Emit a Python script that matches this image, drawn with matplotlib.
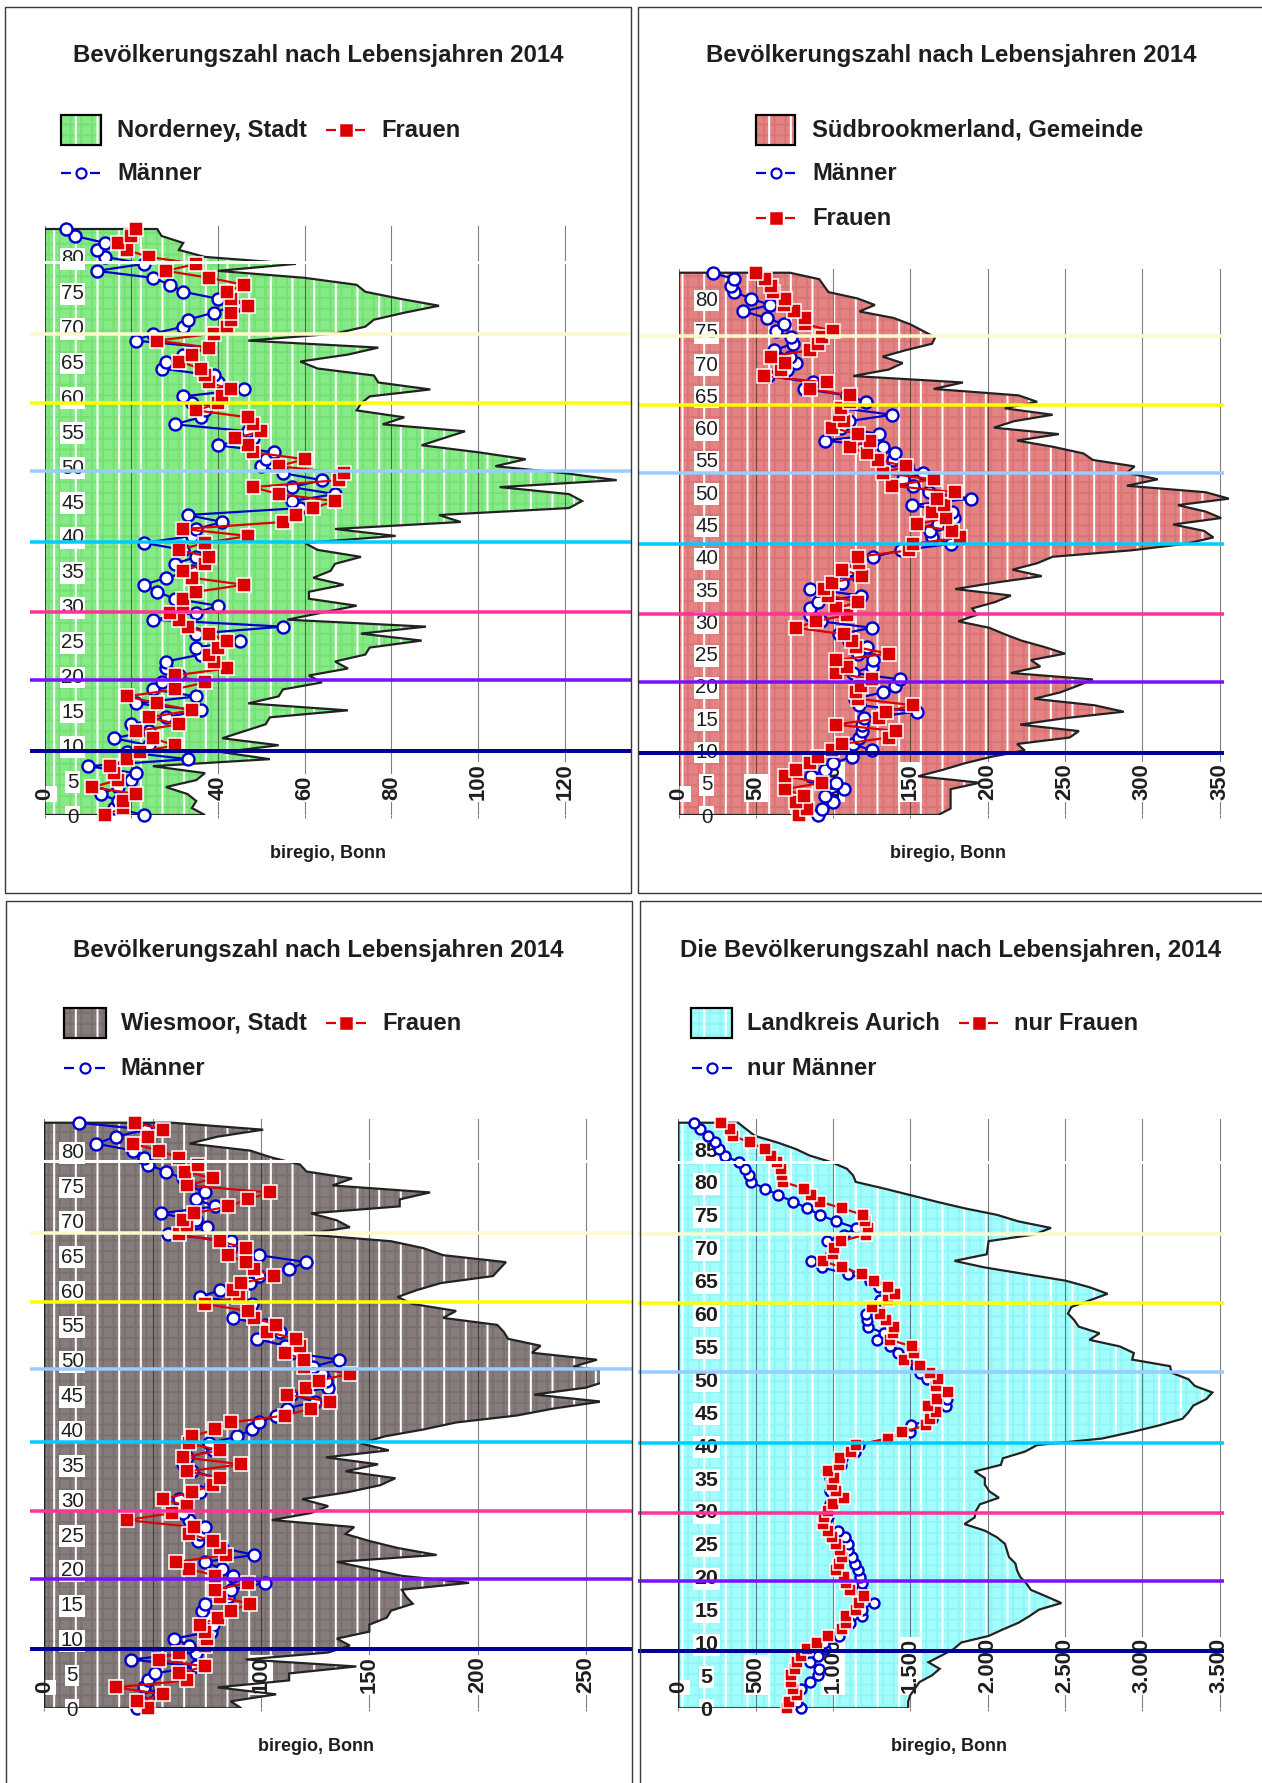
import numpy as np
import matplotlib
matplotlib.use("Agg")
import matplotlib.pyplot as plt
from matplotlib import font_manager
from matplotlib.patches import Polygon, Rectangle
from matplotlib.transforms import blended_transform_factory

W, H, DPI = 1262, 1783, 130
PX = 72.0 / DPI  # points per pixel

# ---------------- data: persons per year of age (list index = age) ----------------
NORDERNEY_TOTAL = [37, 34, 35, 33, 28, 35, 37, 25, 52, 41,
                   54, 41, 46, 51, 52, 70, 47, 54, 55, 64,
                   61, 70, 67, 74, 75, 87, 73, 88, 56, 64,
                   72, 61, 61, 69, 62, 66, 67, 73, 63, 60,
                   81, 67, 96, 91, 121, 124, 121, 105, 132, 120,
                   104, 111, 100, 87, 92, 97, 78, 83, 72, 73,
                   75, 89, 77, 76, 63, 59, 70, 77, 47, 67,
                   74, 76, 83, 91, 82, 74, 72, 60, 40, 58,
                   37, 31, 32, 27, 26]
NORDERNEY_MEN = [23, 16, 17, 13, 17, 20, 21, 10, 33, 19,
                 24, 16, 24, 20, 28, 36, 21, 35, 25, 27,
                 31, 28, 28, 36, 35, 45, 35, 55, 25, 35,
                 40, 30, 26, 23, 28, 34, 30, 35, 32, 23,
                 34, 35, 41, 33, 59, 57, 67, 57, 64, 55,
                 50, 51, 53, 40, 48, 47, 30, 36, 37, 34,
                 32, 46, 40, 39, 27, 28, 32, 38, 21, 25,
                 32, 33, 39, 44, 40, 32, 29, 25, 12, 23,
                 14, 12, 14, 7, 5]
NORDERNEY_WOMEN = [14, 18, 18, 21, 11, 17, 16, 15, 19, 22,
                   30, 25, 21, 31, 24, 34, 26, 19, 30, 37,
                   30, 42, 39, 38, 40, 42, 38, 33, 31, 29,
                   32, 32, 35, 46, 34, 32, 37, 38, 31, 37,
                   47, 32, 55, 58, 62, 67, 54, 48, 68, 69,
                   54, 60, 48, 47, 44, 50, 48, 47, 35, 40,
                   41, 43, 38, 37, 36, 31, 34, 38, 26, 39,
                   42, 43, 43, 47, 43, 42, 46, 38, 28, 35,
                   24, 19, 17, 20, 21]

SUED_TOTAL = [168, 176, 176, 176, 176, 195, 155, 171, 185, 202,
              224, 219, 253, 259, 221, 250, 288, 269, 230, 247,
              258, 268, 215, 234, 228, 250, 237, 222, 211, 201,
              181, 193, 190, 205, 215, 179, 205, 235, 216, 232,
              242, 293, 328, 346, 340, 320, 351, 341, 323, 356,
              341, 290, 310, 290, 295, 268, 262, 243, 219, 246,
              204, 217, 242, 211, 232, 220, 165, 184, 113, 136,
              145, 132, 147, 164, 166, 158, 150, 139, 117, 127,
              116, 97, 94, 91, 72]
SUED_MEN = [90, 93, 100, 95, 107, 102, 86, 95, 100, 112,
            125, 113, 117, 119, 119, 120, 154, 117, 114, 132,
            140, 143, 113, 125, 126, 116, 122, 110, 104, 125,
            92, 85, 85, 90, 118, 85, 106, 116, 110, 115,
            126, 144, 176, 164, 163, 168, 178, 177, 151, 189,
            162, 152, 145, 158, 148, 139, 140, 132, 95, 130,
            105, 110, 138, 106, 121, 109, 81, 87, 58, 70,
            76, 72, 62, 74, 73, 63, 68, 57, 42, 59,
            47, 36, 34, 36, 22]
SUED_WOMEN = [78, 83, 76, 81, 69, 93, 69, 76, 85, 90,
              99, 106, 136, 141, 102, 130, 134, 152, 116, 115,
              118, 125, 102, 109, 102, 136, 115, 112, 107, 76,
              89, 109, 102, 116, 97, 94, 99, 119, 106, 117,
              116, 149, 152, 182, 177, 154, 173, 164, 172, 167,
              179, 138, 165, 132, 147, 129, 122, 111, 124, 116,
              99, 107, 104, 105, 111, 111, 85, 96, 55, 66,
              69, 60, 85, 90, 93, 100, 82, 82, 75, 68,
              69, 61, 60, 56, 50]

WIES_TOTAL = [91, 86, 107, 80, 113, 113, 144, 93, 131, 141,
              135, 150, 150, 158, 160, 170, 167, 165, 196, 165,
              150, 135, 181, 163, 150, 139, 143, 105, 123, 131,
              119, 140, 155, 162, 139, 154, 130, 159, 146, 157,
              175, 190, 218, 235, 257, 226, 250, 260, 270, 244,
              255, 225, 229, 214, 212, 209, 184, 190, 170, 163,
              172, 183, 207, 210, 213, 184, 175, 160, 120, 141,
              135, 123, 164, 164, 178, 133, 142, 121, 118, 105,
              95, 67, 80, 101, 59]
WIES_MEN = [43, 44, 53, 46, 48, 51, 70, 40, 70, 67,
            60, 77, 78, 76, 73, 74, 85, 86, 102, 87,
            82, 74, 97, 82, 71, 72, 74, 67, 64, 66,
            62, 72, 77, 81, 68, 64, 66, 78, 76, 89,
            96, 99, 107, 112, 125, 114, 131, 130, 128, 124,
            136, 114, 111, 98, 109, 102, 87, 95, 96, 72,
            81, 95, 99, 113, 121, 99, 86, 86, 57, 75,
            70, 54, 79, 70, 74, 67, 64, 56, 48, 46,
            41, 24, 33, 47, 16]
WIES_WOMEN = [48, 43, 55, 33, 66, 62, 74, 53, 62, 74,
              75, 74, 72, 80, 86, 95, 81, 79, 94, 79,
              67, 61, 84, 81, 78, 67, 69, 38, 59, 66,
              55, 68, 78, 81, 66, 91, 64, 81, 67, 68,
              79, 86, 111, 123, 132, 112, 121, 127, 141, 120,
              120, 111, 118, 116, 103, 107, 97, 94, 74, 90,
              87, 91, 106, 97, 93, 85, 93, 81, 62, 66,
              64, 69, 85, 94, 104, 66, 78, 65, 71, 62,
              53, 41, 48, 55, 42]

AURICH_TOTAL = [1486, 1486, 1500, 1530, 1560, 1640, 1690, 1617, 1700, 1780,
                1830, 2007, 2100, 2200, 2270, 2333, 2477, 2380, 2280, 2250,
                2210, 2190, 2180, 2138, 2125, 2112, 2060, 1982, 1851, 1916,
                1925, 1950, 2073, 2010, 1982, 1982, 1916, 2086, 2099, 2240,
                2320, 2740, 2935, 3110, 3260, 3300, 3330, 3415, 3454, 3340,
                3300, 3190, 3180, 2935, 2946, 2855, 2659, 2724, 2590, 2560,
                2520, 2542, 2660, 2776, 2659, 2503, 2242, 1982, 1786, 1994,
                2000, 2007, 2300, 2410, 2200, 2060, 1850, 1669, 1500, 1330,
                1147, 1130, 1090, 990, 850, 760, 640, 495, 440, 386]
AURICH_MEN = [790, 770, 740, 790, 850, 900, 912, 850, 900, 950,
              940, 1040, 1050, 1110, 1186, 1190, 1264, 1200, 1180, 1190,
              1173, 1160, 1140, 1120, 1100, 1100, 1080, 1030, 930, 970,
              970, 980, 1010, 980, 990, 980, 960, 1050, 1060, 1140,
              1170, 1350, 1500, 1507, 1640, 1640, 1734, 1740, 1707, 1670,
              1610, 1564, 1540, 1475, 1420, 1369, 1283, 1330, 1225, 1220,
              1212, 1290, 1304, 1370, 1300, 1240, 1095, 930, 855, 990,
              1000, 960, 1070, 1150, 1022, 913, 834, 743, 646, 560,
              469, 456, 430, 391, 300, 265, 235, 190, 140, 104]
AURICH_WOMEN = [704, 717, 769, 743, 730, 730, 756, 769, 790, 830,
                899, 965, 1060, 1082, 1082, 1147, 1170, 1199, 1108, 1082,
                1069, 1017, 1040, 1056, 1043, 1022, 991, 965, 933, 940,
                965, 1000, 1069, 1017, 991, 1004, 965, 1038, 1043, 1116,
                1147, 1355, 1447, 1604, 1630, 1669, 1617, 1674, 1747, 1669,
                1682, 1629, 1560, 1460, 1525, 1512, 1369, 1390, 1395, 1342,
                1304, 1251, 1355, 1403, 1355, 1264, 1186, 1056, 933, 1000,
                1004, 1050, 1212, 1225, 1210, 1194, 1056, 917, 860, 813,
                677, 670, 665, 638, 600, 560, 464, 352, 334, 274]

# age at which each coloured band line sits (bottom to top)
NORDERNEY_BANDS = [9.22, 19.35, 29.06, 39.09, 49.36, 59.02, 68.95, 79.31]
SUED_BANDS = [9.65, 20.60, 31.13, 41.98, 53.02, 63.51, 74.19]
WIES_BANDS = [8.46, 18.55, 28.30, 38.24, 48.63, 58.33, 68.23, 78.51]
AURICH_BANDS = [8.75, 19.35, 29.64, 40.27, 51.16, 61.55, 72.04, 82.98]
BAND_COLORS = ["#000099", "#7a10ff", "#ff3399", "#00ccff", "#99ccff", "#ffff00", "#fcfacb", "#ffffff"]
BAND_WIDTHS = [4.0, 3.5, 3.5, 3.5, 3.5, 3.5, 3.5, 3.0]

TITLE = "Bevölkerungszahl nach Lebensjahren 2014"
SOURCE = "biregio, Bonn"

# ---------------- fonts ----------------
_names = {f.name for f in font_manager.fontManager.ttflist}
SANS = "Liberation Sans" if "Liberation Sans" in _names else "DejaVu Sans"
NARROW = "Liberation Sans Narrow" if "Liberation Sans Narrow" in _names else SANS
NK = 1.0 if NARROW != SANS else 0.93
TXT = "#1e1e1e"

plt.rcParams["hatch.linewidth"] = 2.0 * PX

PANELS = [
    dict(data=(NORDERNEY_TOTAL, NORDERNEY_MEN, NORDERNEY_WOMEN), bands=NORDERNEY_BANDS,
         rect=(44.5, 226.0, 630.0, 815.0), xmax=135.06, ytop=84.43,
         xticks=[0, 20, 40, 60, 80, 100, 120], xlabels=["0", "", "40", "60", "80", "100", "120"],
         yticks=list(range(0, 81, 5)), ybold=False, band_x=(30, 631),
         fill="#86ea86", faint="#76e076", ms=(12, 14)),
    dict(data=(SUED_TOTAL, SUED_MEN, SUED_WOMEN), bands=SUED_BANDS,
         rect=(678.5, 269.3, 1238.0, 815.0), xmax=361.9, ytop=84.53,
         xticks=list(range(0, 351, 50)), xlabels=[str(v) for v in range(0, 351, 50)],
         yticks=list(range(0, 81, 5)), ybold=False, band_x=(638, 1224),
         fill="#e48383", faint="#da7575", ms=(12, 14)),
    dict(data=(WIES_TOTAL, WIES_MEN, WIES_WOMEN), bands=WIES_BANDS,
         rect=(44.2, 1119.3, 600.0, 1708.3), xmax=256.4, ytop=84.49,
         xticks=[0, 50, 100, 150, 200, 250], xlabels=["0", "", "100", "150", "200", "250"],
         yticks=list(range(0, 81, 5)), ybold=False, band_x=(30, 632),
         fill="#877c7c", faint="#7a6f6f", ms=(12, 14)),
    dict(data=(AURICH_TOTAL, AURICH_MEN, AURICH_WOMEN), bands=AURICH_BANDS,
         rect=(678.4, 1119.3, 1222.6, 1708.3), xmax=3520, ytop=89.52,
         xticks=list(range(0, 3501, 500)),
         xlabels=["0", "500", "1.000", "1.500", "2.000", "2.500", "3.000", "3.500"],
         yticks=list(range(0, 86, 5)), ybold=True, band_x=(638, 1224),
         fill="#a3fdfd", faint="#90f5f5", ms=(10, 12)),
]


def draw_panel(fig, p):
    l, t, r, b = p["rect"]
    ax = fig.add_axes([l / W, 1 - b / H, (r - l) / W, (b - t) / H])
    ax.patch.set_visible(False)
    total, men, women = (np.asarray(v, dtype=float) for v in p["data"])
    ages = np.arange(len(total))
    verts = [(0, 0)] + list(zip(total, ages)) + [(0, ages[-1])]
    ax.add_patch(Polygon(verts, facecolor=p["fill"], edgecolor=p["faint"], lw=0, hatch="++", zorder=1))
    ax.add_patch(Polygon(verts, facecolor="none", edgecolor="white", lw=0, hatch="|", zorder=1.2))
    ax.add_patch(Polygon(verts, fill=False, edgecolor="#222222", lw=2.2 * PX, zorder=3))
    mc, ms = p["ms"]
    ax.plot(men, ages, color="#0000cc", lw=2.2 * PX, marker="o", ms=mc * PX, mfc="white",
            mec="#0000cc", mew=2.4 * PX, zorder=5, clip_on=False)
    ax.plot(women, ages, color="#dd0000", lw=2.2 * PX, marker="s", ms=ms * PX, mfc="#dd0000",
            mec="white", mew=1.5 * PX, zorder=6, clip_on=False)
    ax.set_xlim(0, p["xmax"])
    ax.set_ylim(0, p["ytop"])
    for s in ax.spines.values():
        s.set_visible(False)

    ax.set_xticks(p["xticks"])
    ax.set_xticklabels(p["xlabels"])
    ax.xaxis.grid(True, color="black", alpha=0.5, lw=1.1 * PX)
    ax.yaxis.grid(False)
    ax.set_axisbelow(False)
    ax.tick_params(axis="x", direction="out", length=3 * PX, width=1.1 * PX, color="#808080",
                   pad=-18 * PX, labelsize=22 * PX, labelrotation=90, labelcolor=TXT)
    for lbl in ax.get_xticklabels():
        lbl.set_va("bottom")
        lbl.set_fontfamily(SANS)
        lbl.set_fontweight("bold")
        lbl.set_bbox(dict(facecolor="white", edgecolor="none", pad=0.8))

    ax.set_yticks(p["yticks"])
    ysize = (23 if p["ybold"] else 22) * PX * NK
    ax.tick_params(axis="y", length=0, pad=-28 * PX, labelsize=ysize, labelcolor=TXT)
    for lbl in ax.get_yticklabels():
        lbl.set_ha("center")
        lbl.set_fontfamily(NARROW)
        lbl.set_fontweight("bold" if p["ybold"] else "normal")
        lbl.set_bbox(dict(facecolor="white", edgecolor="none", pad=0.8))

    # coloured horizontal band lines
    tr = blended_transform_factory(ax.transAxes, ax.transData)
    bx0, bx1 = p["band_x"]
    for age, col, lw in zip(p["bands"], BAND_COLORS, BAND_WIDTHS):
        x0 = bx0 + (10 if col == "#ffffff" and bx0 < 100 else 0)
        ax.plot([(x0 - l) / (r - l), (bx1 - l) / (r - l)], [age, age], color=col, lw=lw * PX,
                transform=tr, clip_on=False, zorder=20, solid_capstyle="butt")
    return ax


fig = plt.figure(figsize=(W / DPI + 1e-6, H / DPI + 1e-6), dpi=DPI)
fig.patch.set_facecolor("white")
for p in PANELS:
    draw_panel(fig, p)

# ---------------- overlay in pixel coordinates: frames, titles, legends ----------------
ov = fig.add_axes([0, 0, 1, 1], zorder=10)
ov.set_xlim(0, W)
ov.set_ylim(H, 0)
ov.axis("off")

for (x0, y0, x1, y1) in [(5, 7.3, 631, 893), (638, 7.3, 1275, 893),
                         (6, 900.7, 632, 1800), (640, 900.7, 1275, 1800)]:
    ov.add_patch(Rectangle((x0, y0), x1 - x0, y1 - y0, fill=False, edgecolor="#3a3a3a",
                           lw=1.4 * PX))

title_kw = dict(ha="center", va="center", fontsize=24 * PX, fontweight="bold", family=SANS, color=TXT)
ov.text(318, 55, TITLE, **title_kw)
ov.text(951, 55, TITLE, **title_kw)
ov.text(318.7, 950, TITLE, **title_kw)
ov.text(951, 950, "Die Bevölkerungszahl nach Lebensjahren, 2014", **title_kw)

src_kw = dict(ha="center", va="center", fontsize=21 * PX * (NK if NK == 1.0 else 0.86),
              fontweight="bold", family=NARROW, color=TXT)
ov.text(327.6, 853, SOURCE, **src_kw)
ov.text(948.4, 853, SOURCE, **src_kw)
ov.text(316, 1746.7, SOURCE, **src_kw)
ov.text(949.4, 1746.7, SOURCE, **src_kw)

leg_kw = dict(ha="left", va="center", fontsize=23.8 * PX, fontweight="bold", family=SANS, color=TXT)


def leg_patch(x, y, w, h, fill, faint, label, tx):
    ov.add_patch(Rectangle((x, y), w, h, facecolor=fill, edgecolor=faint, lw=0, hatch="++"))
    ov.add_patch(Rectangle((x, y), w, h, facecolor="none", edgecolor="white", lw=0, hatch="|"))
    ov.add_patch(Rectangle((x, y), w, h, fill=False, edgecolor="black", lw=2.2 * PX))
    ov.text(tx, y + h / 2, label, **leg_kw)


def leg_line(x0, x1, y, kind, label, tx):
    if kind == "men":
        col, mk, mfc, mec, ms, mew = "#0000cc", "o", "white", "#0000cc", 10, 2.2
    else:
        col, mk, mfc, mec, ms, mew = "#dd0000", "s", "#dd0000", "#dd0000", 11, 0.5
    ov.plot([x0, x0 + 10], [y, y], color=col, lw=2.2 * PX, solid_capstyle="butt")
    ov.plot([x1 - 10, x1], [y, y], color=col, lw=2.2 * PX, solid_capstyle="butt")
    ov.plot([(x0 + x1) / 2], [y], marker=mk, ms=ms * PX, mfc=mfc, mec=mec, mew=mew * PX)
    ov.text(tx, y, label, **leg_kw)


leg_patch(61, 115, 40, 30, PANELS[0]["fill"], PANELS[0]["faint"], "Norderney, Stadt", 117)
leg_line(326, 365, 130, "women", "Frauen", 381.5)
leg_line(61, 100, 173, "men", "Männer", 117)

leg_patch(756, 115, 39, 30, PANELS[1]["fill"], PANELS[1]["faint"], "Südbrookmerland, Gemeinde", 812)
leg_line(756, 795, 173, "men", "Männer", 812)
leg_line(756, 795, 218, "women", "Frauen", 812)

leg_patch(64.4, 1008.3, 41.8, 30, PANELS[2]["fill"], PANELS[2]["faint"], "Wiesmoor, Stadt", 120.7)
leg_line(326, 366, 1023.3, "women", "Frauen", 382.3)
leg_line(64.4, 104.6, 1068.3, "men", "Männer", 120.7)

leg_patch(690.5, 1008.3, 41.9, 30, PANELS[3]["fill"], PANELS[3]["faint"], "Landkreis Aurich", 746.9)
leg_line(959.4, 998, 1023.3, "women", "nur Frauen", 1014)
leg_line(692, 732, 1068.3, "men", "nur Männer", 746.9)

fig.savefig("out.png", dpi=DPI, facecolor="white")
